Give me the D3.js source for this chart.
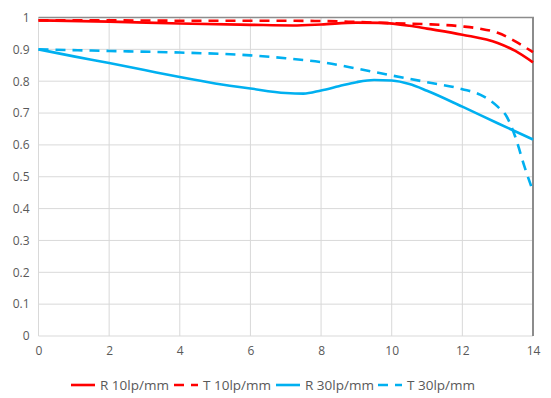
<!DOCTYPE html>
<html>
<head>
<meta charset="utf-8">
<script src="https://cdn.jsdelivr.net/npm/d3@7"></script>
<style>
  body { margin: 0; background: #fff; }
  text { font-family: "Open Sans", sans-serif; fill: #595959; }
</style>
</head>
<body>
<div id="chart-area"></div>
<script>
// field position (mm) and MTF values
const xR10 = [0, 2, 4, 6, 7.2, 8, 9, 9.7, 10.5, 11, 12, 13, 13.5, 14];
const R10 = [0.991, 0.987, 0.981, 0.977, 0.975, 0.978, 0.984, 0.983, 0.974, 0.965, 0.946, 0.92, 0.895, 0.859];

const xT10 = [0, 2, 4, 6, 8, 9, 10, 11, 12, 12.5, 13, 13.5, 14];
const T10 = [0.991, 0.991, 0.99, 0.99, 0.989, 0.986, 0.982, 0.979, 0.972, 0.965, 0.952, 0.925, 0.891];

const xR30 = [0, 1, 2, 3, 4, 5, 6, 7, 7.5, 8, 8.5, 9, 9.5, 10, 10.5, 11, 12, 13, 14];
const R30 = [0.9, 0.878, 0.857, 0.835, 0.813, 0.793, 0.777, 0.763, 0.761, 0.771, 0.784, 0.797, 0.804, 0.802, 0.791, 0.77, 0.72, 0.668, 0.617];

const xT30 = [0, 2, 4, 6, 7, 8, 9, 10, 11, 12, 12.5, 13, 13.25, 13.5, 13.75, 14];
const T30 = [0.9, 0.895, 0.89, 0.881, 0.872, 0.86, 0.84, 0.818, 0.797, 0.775, 0.758, 0.72, 0.69, 0.625, 0.535, 0.454];

const seriesNames = ['R 10lp/mm', 'T 10lp/mm', 'R 30lp/mm', 'T 30lp/mm'];
const xTicks = [0, 2, 4, 6, 8, 10, 12, 14];
const yTicks = [0, 0.1, 0.2, 0.3, 0.4, 0.5, 0.6, 0.7, 0.8, 0.9, 1];

const series = [
    {name: seriesNames[0], xs: xR10, ys: R10, color: '#ff0000', dash: null},
    {name: seriesNames[1], xs: xT10, ys: T10, color: '#ff0000', dash: '10,7'},
    {name: seriesNames[2], xs: xR30, ys: R30, color: '#00b0f0', dash: null},
    {name: seriesNames[3], xs: xT30, ys: T30, color: '#00b0f0', dash: '10,7'}
];

const W = 551, H = 398;
const margin = {left: 38.5, right: 18, top: 17.5, bottom: 62};
const width = W - margin.left - margin.right,
    height = H - margin.top - margin.bottom;

const svg = d3.select('#chart-area')
    .append('svg')
    .attr('width', W)
    .attr('height', H);

const g = svg.append('g')
    .attr('transform', 'translate(' + margin.left + ', ' + margin.top + ')');

const xScale = d3.scaleLinear().domain([0, 14]).range([0, width]);
const yScale = d3.scaleLinear().domain([0, 1]).range([height, 0]);

// gridlines
g.selectAll('.hgrid').data(yTicks).enter().append('line')
    .attr('x1', 0).attr('x2', width)
    .attr('y1', d => yScale(d)).attr('y2', d => yScale(d))
    .attr('stroke', '#d9d9d9').attr('stroke-width', 1);

g.selectAll('.vgrid').data(xTicks).enter().append('line')
    .attr('x1', d => xScale(d)).attr('x2', d => xScale(d))
    .attr('y1', 0).attr('y2', height)
    .attr('stroke', '#d9d9d9').attr('stroke-width', 1);

// darker frame on top and right
g.append('line').attr('x1', 0).attr('x2', width + 1).attr('y1', 0).attr('y2', 0)
    .attr('stroke', '#8c8c8c').attr('stroke-width', 1.5);
g.append('line').attr('x1', width).attr('x2', width).attr('y1', 0).attr('y2', height)
    .attr('stroke', '#8c8c8c').attr('stroke-width', 2);

// axes (labels only)
const xAxis = d3.axisBottom(xScale).tickValues(xTicks).tickSize(0).tickPadding(10);
const yAxis = d3.axisLeft(yScale).tickValues(yTicks).tickSize(0).tickPadding(9)
    .tickFormat(d => d3.format('')(+d.toFixed(1)));

const xAxisGroup = g.append('g')
    .attr('transform', 'translate(0, ' + height + ')')
    .call(xAxis);
const yAxisGroup = g.append('g').call(yAxis);

[xAxisGroup, yAxisGroup].forEach(ag => {
    ag.select('.domain').remove();
    ag.selectAll('text')
        .attr('font-family', '"Open Sans", sans-serif')
        .attr('font-size', '12px')
        .attr('fill', '#595959');
});

// curves
const line = d3.line()
    .x(d => xScale(d[0]))
    .y(d => yScale(d[1]))
    .curve(d3.curveMonotoneX);

series.forEach(s => {
    g.append('path')
        .datum(s.xs.map((x, i) => [x, s.ys[i]]))
        .attr('d', line)
        .attr('fill', 'none')
        .attr('stroke', s.color)
        .attr('stroke-width', 2.6)
        .attr('stroke-dasharray', s.dash);
});

// legend
const legendX = [71, 174, 276, 378];
const legend = svg.append('g').attr('transform', 'translate(0, 385)');
series.forEach((s, i) => {
    legend.append('line')
        .attr('x1', legendX[i]).attr('x2', legendX[i] + 24)
        .attr('y1', 0).attr('y2', 0)
        .attr('stroke', s.color)
        .attr('stroke-width', 2.6)
        .attr('stroke-dasharray', s.dash);
    legend.append('text')
        .text(s.name)
        .attr('x', legendX[i] + 29)
        .attr('y', 0)
        .attr('dy', '0.35em')
        .attr('font-size', '13.5px');
});
</script>
</body>
</html>
